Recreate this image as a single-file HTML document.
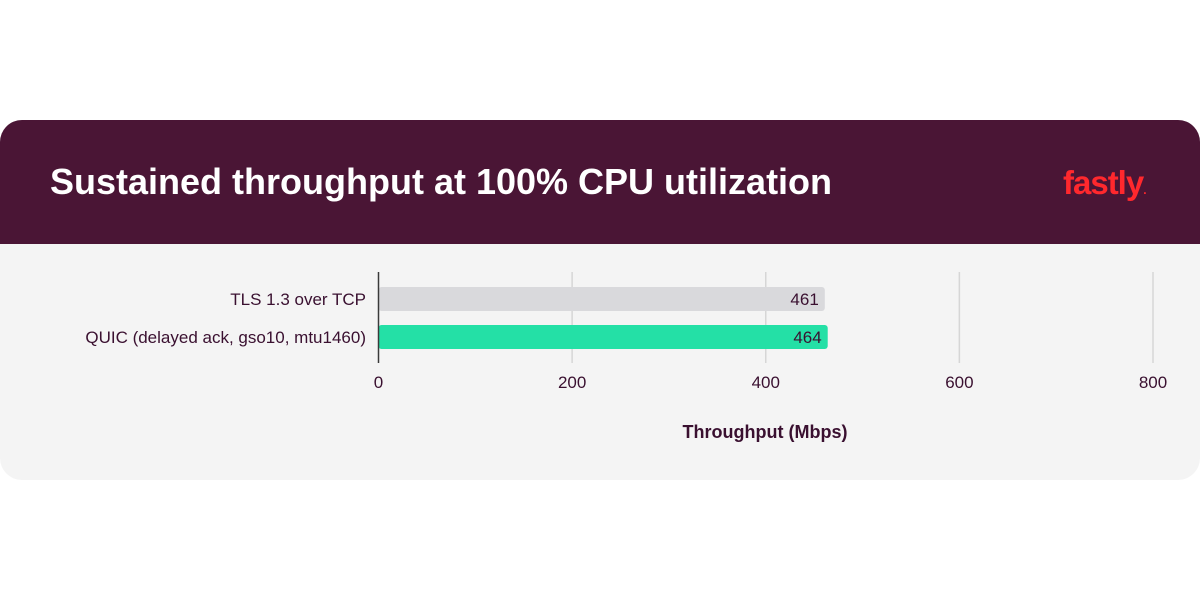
<!DOCTYPE html>
<html><head><meta charset="utf-8"><style>
html,body{margin:0;padding:0;background:#fff;width:1200px;height:600px;overflow:hidden;font-family:"Liberation Sans",sans-serif}
</style></head><body>
<svg width="1200" height="600" xmlns="http://www.w3.org/2000/svg">
<rect x="0" y="120" width="1200" height="360" rx="22" fill="#f4f4f4"/>
<path d="M0,142 a22,22 0 0 1 22,-22 H1178 a22,22 0 0 1 22,22 V244 H0 Z" fill="#4a1535"/>
<text x="50" y="194" font-size="36" font-weight="bold" fill="#ffffff">Sustained throughput at 100% CPU utilization</text>
<text x="1063" y="194" font-size="33" font-weight="bold" fill="#ff282d" letter-spacing="-1">fastly<tspan font-size="12">.</tspan></text>
<g id="plot"></g>
<text x="765" y="438" font-size="18" font-weight="bold" fill="#3a1030" text-anchor="middle">Throughput (Mbps)</text>
</svg>
<script>
const categories=["TLS 1.3 over TCP","QUIC (delayed ack, gso10, mtu1460)"];
const values=[461,464];
const ticks=[0,200,400,600,800];
const colors=["#d9d9dc","#24e0a6"];
const x0=378.5,x1=1153,max=800;
const X=v=>x0+(x1-x0)*v/max;
const NS="http://www.w3.org/2000/svg";
const g=document.getElementById('plot');
function mk(t,a){const e=document.createElementNS(NS,t);for(const k in a)e.setAttribute(k,a[k]);g.appendChild(e);return e;}
ticks.forEach(t=>{
  if(t>0){const l=mk('line',{x1:X(t),x2:X(t),y1:272,y2:363,stroke:'#d6d6d6','stroke-width':1.5});
  
  }
  const tx=mk('text',{x:X(t),y:388,'font-size':17,fill:'#3a1030','text-anchor':'middle'});
  tx.textContent=t;
  
  
});
categories.forEach((c,i)=>{
  const y=287+i*38;
  const b=mk('rect',{x:x0,y:y,width:X(values[i])-x0,height:24,rx:3,fill:colors[i]});
  
  
  const v=mk('text',{x:X(values[i])-6,y:y+18,'font-size':17,fill:'#3a1030','text-anchor':'end'});
  v.textContent=values[i];
  
  
  const l=mk('text',{x:366,y:y+18,'font-size':17,fill:'#3a1030','text-anchor':'end'});
  l.textContent=c;
  
  
});
const ax=mk('line',{x1:x0,x2:x0,y1:272,y2:363,stroke:'#3a3a3a','stroke-width':1.5});


</script>
</body></html>
